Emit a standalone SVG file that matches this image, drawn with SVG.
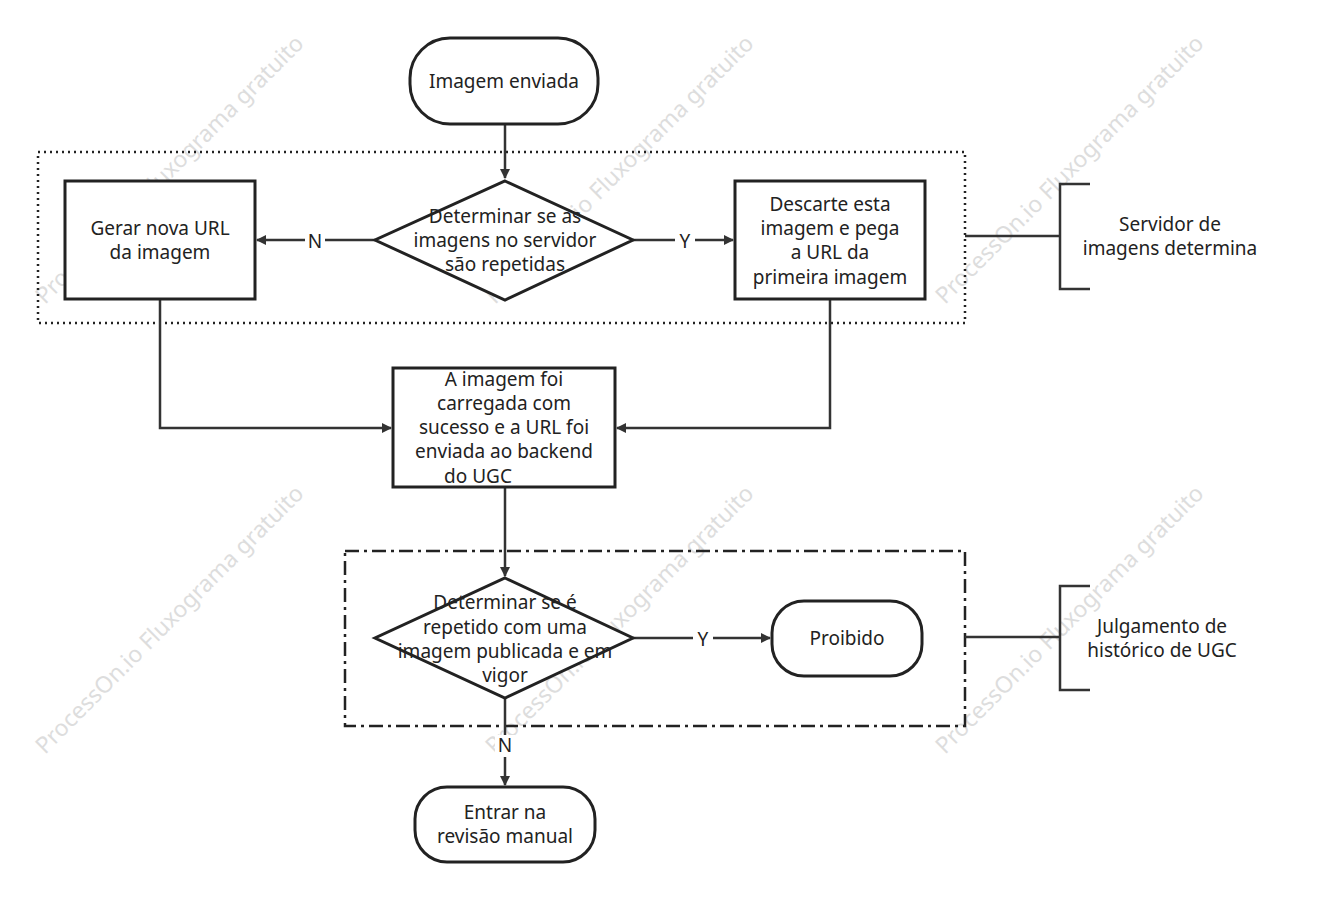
<svg xmlns="http://www.w3.org/2000/svg" width="1318" height="900" viewBox="0 0 1318 900">
<style>
.s{fill:#fff;stroke:#222;stroke-width:3}
.l{fill:none;stroke:#333;stroke-width:2.5}
.t{font-family:"Noto Sans","Liberation Sans",sans-serif;font-size:19px;fill:#222;text-anchor:middle}
.w{font-family:"Noto Sans","Liberation Sans",sans-serif;font-size:23px;fill:#ddd;text-anchor:middle}
</style>
<defs><marker id="a" markerWidth="10" markerHeight="10" refX="9" refY="5" orient="auto" markerUnits="userSpaceOnUse" viewBox="0 0 10 10"><path d="M0,0L10,5L0,10z" fill="#333"/></marker></defs>
<rect width="1318" height="900" fill="#fff"/>
<g id="watermarks">
<text class="w" transform="translate(175,175) rotate(-45)">ProcessOn.io Fluxograma gratuito</text>
<text class="w" transform="translate(625,175) rotate(-45)">ProcessOn.io Fluxograma gratuito</text>
<text class="w" transform="translate(1075,175) rotate(-45)">ProcessOn.io Fluxograma gratuito</text>
<text class="w" transform="translate(175,625) rotate(-45)">ProcessOn.io Fluxograma gratuito</text>
<text class="w" transform="translate(625,625) rotate(-45)">ProcessOn.io Fluxograma gratuito</text>
<text class="w" transform="translate(1075,625) rotate(-45)">ProcessOn.io Fluxograma gratuito</text>
</g>
<g id="groups">
<rect x="38" y="152" width="927" height="171" fill="none" stroke="#222" stroke-width="2.5" stroke-dasharray="2,4"/>
<rect x="345" y="551" width="620" height="175" fill="none" stroke="#222" stroke-width="2.5" stroke-dasharray="14,5,3,5"/>
</g>
<g id="connectors">
<path class="l" d="M505,124V178" marker-end="url(#a)"/>
<path class="l" d="M375,240H257" marker-end="url(#a)"/>
<path class="l" d="M633,240H733" marker-end="url(#a)"/>
<path class="l" d="M160,299V428H391" marker-end="url(#a)"/>
<path class="l" d="M830,299V428H617" marker-end="url(#a)"/>
<path class="l" d="M505,487V576" marker-end="url(#a)"/>
<path class="l" d="M633,638H770" marker-end="url(#a)"/>
<path class="l" d="M505,698V785" marker-end="url(#a)"/>
<path class="l" d="M965,236H1060M1090,184H1060V289H1090"/>
<path class="l" d="M965,637H1060M1090,586H1060V690H1090"/>
<rect x="305" y="230" width="20" height="22" fill="#fff"/><text class="t" x="315" y="248">N</text>
<rect x="675" y="230" width="20" height="22" fill="#fff"/><text class="t" x="685" y="248">Y</text>
<rect x="693" y="628" width="20" height="22" fill="#fff"/><text class="t" x="703" y="646">Y</text>
<rect x="495" y="735" width="20" height="22" fill="#fff"/><text class="t" x="505" y="752">N</text>
</g>
<g id="start"><rect class="s" x="410" y="38" width="188" height="86" rx="40"/><text class="t" x="504" y="88">Imagem enviada</text></g>
<g id="d1"><path class="s" d="M505,181L633,240L505,300L375,240Z"/><text class="t" x="505" y="223">Determinar se as</text><text class="t" x="505" y="247">imagens no servidor</text><text class="t" x="505" y="271">são repetidas</text></g>
<g id="gerar"><rect class="s" x="65" y="181" width="190" height="118"/><text class="t" x="160" y="235">Gerar nova URL</text><text class="t" x="160" y="259">da imagem</text></g>
<g id="descarte"><rect class="s" x="735" y="181" width="190" height="118"/><text class="t" x="830" y="211">Descarte esta</text><text class="t" x="830" y="235">imagem e pega</text><text class="t" x="830" y="259">a URL da</text><text class="t" x="830" y="284">primeira imagem</text></g>
<g id="lbl1"><text class="t" x="1170" y="231">Servidor de</text><text class="t" x="1170" y="255">imagens determina</text></g>
<g id="carregada"><rect class="s" x="393" y="368" width="222" height="119"/><text class="t" x="504" y="386">A imagem foi</text><text class="t" x="504" y="410">carregada com</text><text class="t" x="504" y="434">sucesso e a URL foi</text><text class="t" x="504" y="458">enviada ao backend</text><text class="t" x="478" y="483">do UGC</text></g>
<g id="d2"><path class="s" d="M505,578L633,638L505,698L375,638Z"/><text class="t" x="505" y="609">Determinar se é</text><text class="t" x="505" y="634">repetido com uma</text><text class="t" x="505" y="658">imagem publicada e em</text><text class="t" x="505" y="682">vigor</text></g>
<g id="proibido"><rect class="s" x="772" y="601" width="150" height="75" rx="32"/><text class="t" x="847" y="645">Proibido</text></g>
<g id="lbl2"><text class="t" x="1162" y="633">Julgamento de</text><text class="t" x="1162" y="657">histórico de UGC</text></g>
<g id="end"><rect class="s" x="415" y="787" width="180" height="75" rx="32"/><text class="t" x="505" y="819">Entrar na</text><text class="t" x="505" y="843">revisão manual</text></g>
</svg>
